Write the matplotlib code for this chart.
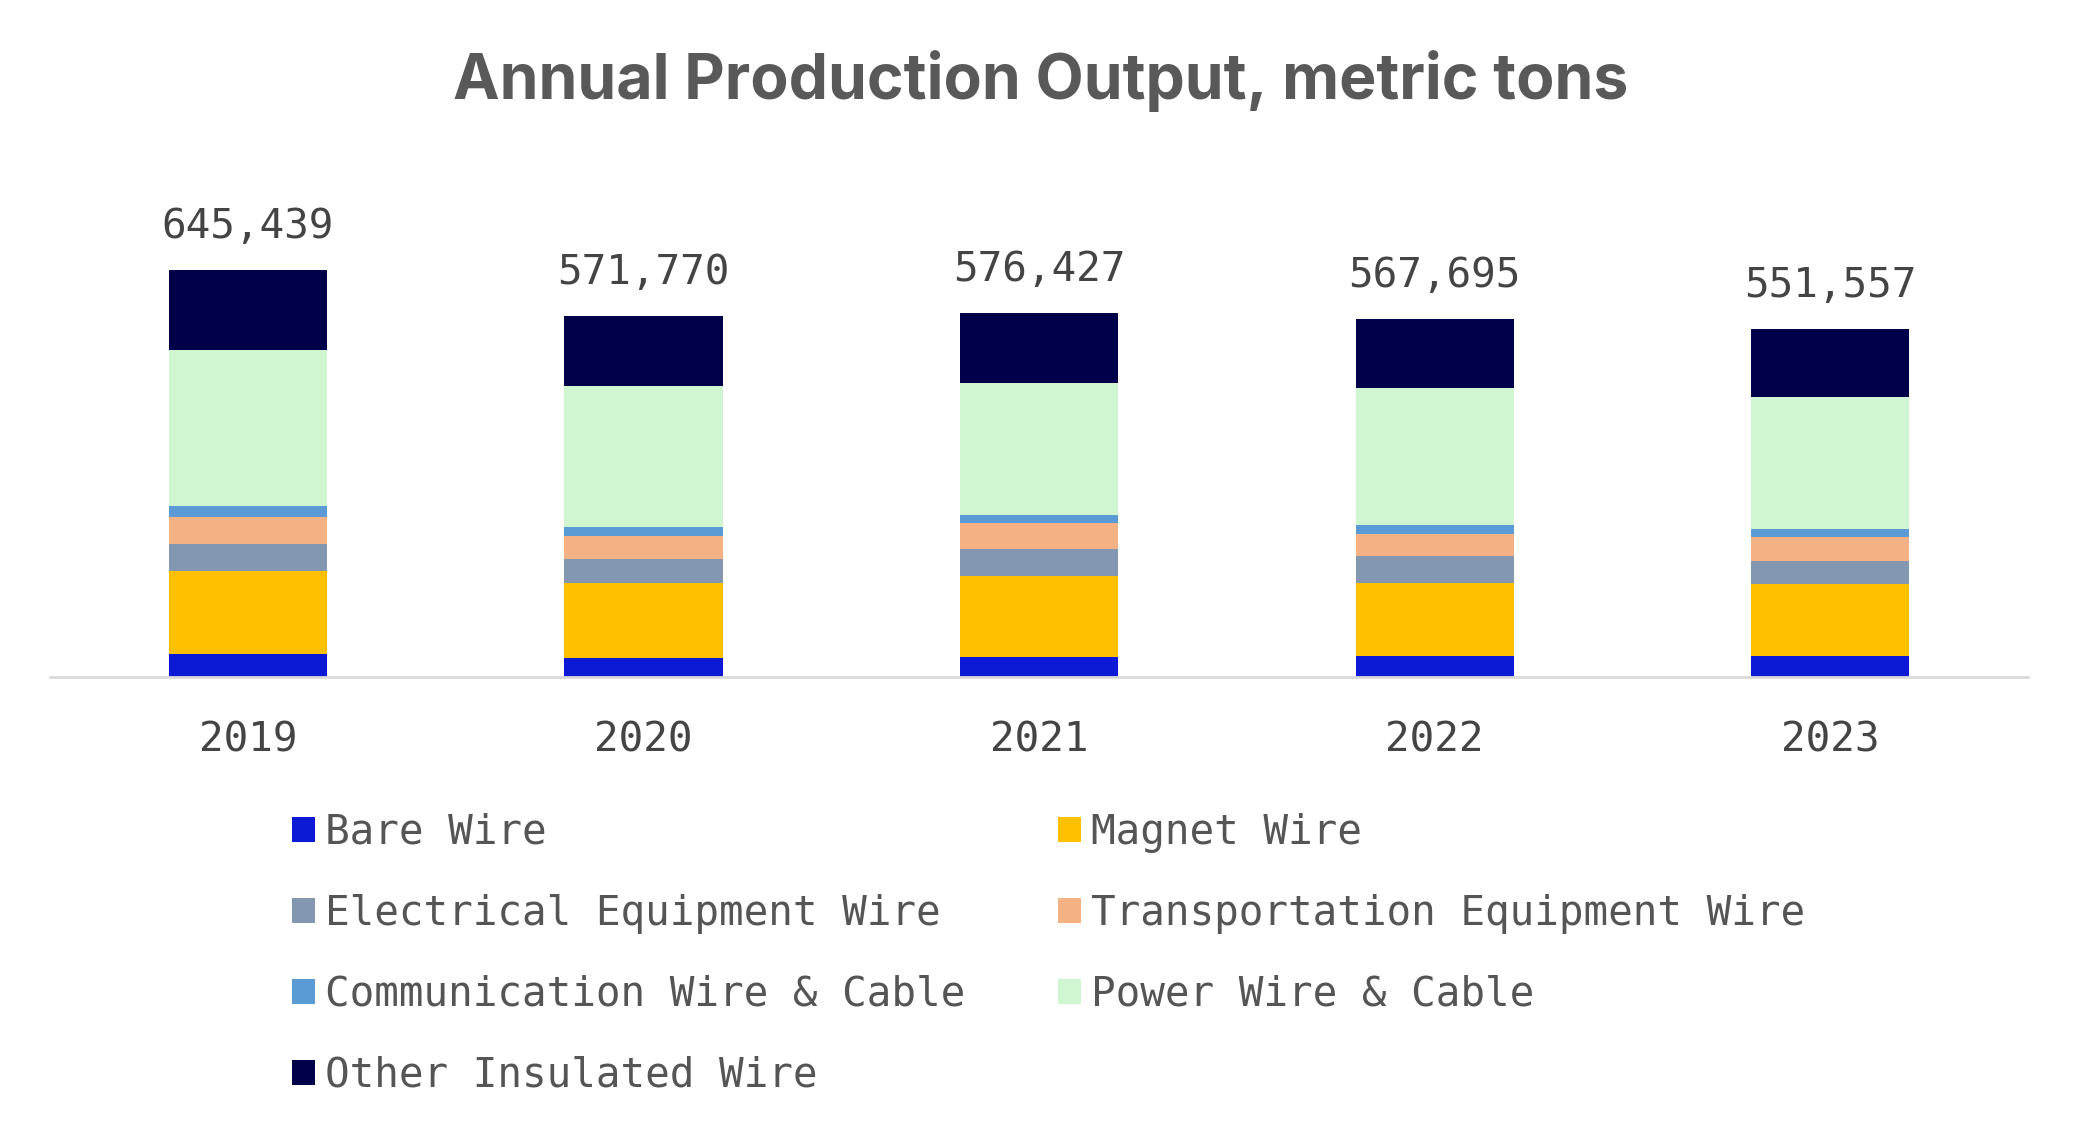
import numpy as np
import matplotlib.pyplot as plt
from matplotlib.patches import Patch

years = ["2019", "2020", "2021", "2022", "2023"]
totals = [645439, 571770, 576427, 567695, 551557]

bare_wire = [36970, 30180, 32277, 33830, 33897]
magnet_wire = [131520, 118590, 126920, 115760, 112740]
electrical_wire = [42780, 37590, 42830, 42820, 37580]
transport_wire = [41730, 36530, 41250, 34890, 37050]
comm_wire = [17430, 14290, 12690, 14270, 12700]
power_wire = [248250, 223410, 210460, 215660, 209610]
other_wire = [126759, 111180, 110000, 110465, 107980]

series_names = ["Bare Wire", "Magnet Wire", "Electrical Equipment Wire",
                "Transportation Equipment Wire", "Communication Wire & Cable",
                "Power Wire & Cable", "Other Insulated Wire"]
series_values = [bare_wire, magnet_wire, electrical_wire, transport_wire,
                 comm_wire, power_wire, other_wire]
colors = ["#0C1AD6", "#FFC000", "#8497B0", "#F4B183", "#5B9BD5",
          "#D0F5D1", "#00004A"]

mono = "DejaVu Sans Mono"
text_grey = "#444444"

fig = plt.figure(figsize=(20.85, 11.41), dpi=100)
ax = fig.add_axes([0.024, 0.4067, 0.9487, 0.4618])

x = np.arange(len(years))
bottom = np.zeros(len(years))
for name, vals, col in zip(series_names, series_values, colors):
    ax.bar(x, vals, width=0.4, bottom=bottom, color=col, label=name, linewidth=0)
    bottom += np.array(vals)

# totals above each stack
for xi, tot in zip(x, totals):
    ax.annotate(f"{tot:,}", (xi, tot), xytext=(0, 23), textcoords="offset pixels",
                ha="center", va="bottom", fontsize=29.5, family=mono, color=text_grey)

ax.set_xlim(-0.5, 4.5)
ax.set_ylim(0, 835000)
ax.set_xticks(x)
ax.set_xticklabels(years, fontsize=29.5, family=mono, color=text_grey)
ax.tick_params(axis="x", length=0, pad=31)
ax.set_yticks([])
for s in ["top", "right", "left"]:
    ax.spines[s].set_visible(False)
ax.spines["bottom"].set_color("#D9D9D9")
ax.spines["bottom"].set_linewidth(2)

fig.text(0.499, 0.929, "Annual Production Output, metric tons", ha="center",
         va="center", fontsize=45, fontweight="bold", family="Inter", color="#595959")

# legend laid out row by row (matplotlib fills columns first)
order = [0, 2, 4, 6, 1, 3, 5]
handles = [Patch(facecolor=colors[i], edgecolor="none") for i in order]
labels = [series_names[i] for i in order]
fig.legend(handles, labels, ncol=2, loc="upper left",
           bbox_to_anchor=(0.132, 0.302), frameon=False,
           prop={"family": mono, "size": 29.5}, labelcolor="#555555",
           handlelength=0.57, handleheight=0.57, handletextpad=0.25,
           labelspacing=1.0, columnspacing=2.25, borderaxespad=0)

fig.savefig("out.png", dpi=100, facecolor="white")
